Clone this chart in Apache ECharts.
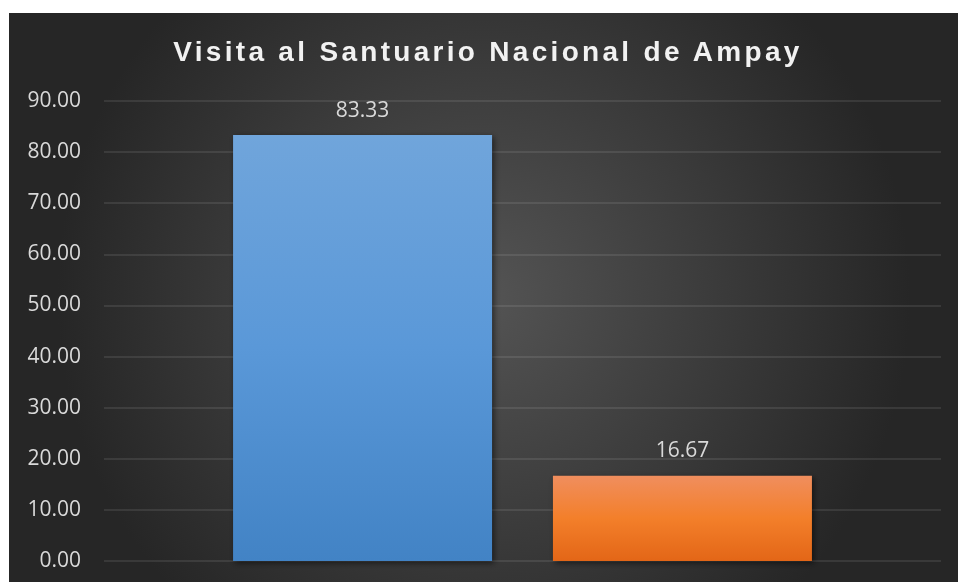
<!DOCTYPE html>
<html>
<head>
<meta charset="utf-8">
<script src="https://cdn.jsdelivr.net/npm/echarts@6/dist/echarts.min.js"></script>
<style>
  html, body { margin: 0; padding: 0; background: #fff; }
  #chart { position: absolute; left: 9px; top: 13px; width: 949px; height: 569px; }
  #titulo {
    position: absolute; left: 9px; top: 38px; width: 949px;
    text-align: center; color: #f2f2f2;
    font-family: 'Liberation Sans', Arial, sans-serif; font-weight: bold;
    font-size: 28px; line-height: 1; letter-spacing: 3.3px; padding-left: 9px;
    box-sizing: border-box; pointer-events: none;
  }
</style>
</head>
<body>
<div id="chart"></div>
<div id="titulo"></div>
<script>
var titulo = 'Visita al Santuario Nacional de Ampay';
var categorias = [''];
var seriesNombres = ['Sí', 'No'];
var valores = [83.33, 16.67];
var ejeMin = 0, ejeMax = 90, ejeIntervalo = 10;

// el título va en HTML para poder usar letter-spacing
document.getElementById('titulo').textContent = titulo;

var chart = echarts.init(document.getElementById('chart'));

var degradados = [
  ['#70a5db', '#5a98d8', '#4283c5'],
  ['#f08e5e', '#f37f2a', '#e36617']
];

var series = seriesNombres.map(function (nombre, i) {
  return {
    name: nombre,
    type: 'bar',
    barWidth: 259,
    barGap: '23.5%',
    data: [valores[i]],
    itemStyle: {
      color: new echarts.graphic.LinearGradient(0, 0, 0, 1, [
        { offset: 0, color: degradados[i][0] },
        { offset: 0.5, color: degradados[i][1] },
        { offset: 1, color: degradados[i][2] }
      ]),
      shadowColor: 'rgba(0,0,0,0.55)',
      shadowBlur: 6,
      shadowOffsetX: 2,
      shadowOffsetY: 2
    },
    label: {
      show: true,
      position: 'top',
      distance: 14,
      color: '#d9d9d9',
      fontFamily: 'Open Sans',
      fontSize: 21,
      formatter: function (p) { return p.value.toFixed(2); }
    }
  };
});

chart.setOption({
  backgroundColor: new echarts.graphic.RadialGradient(0.5, 0.5, 0.75, [
    { offset: 0, color: '#545454' },
    { offset: 1, color: '#262626' }
  ]),
  animation: false,
  grid: { left: 95, right: 17, top: 88, bottom: 21 },
  xAxis: {
    type: 'category',
    data: categorias,
    axisLine: { show: false },
    axisTick: { show: false },
    axisLabel: { show: false }
  },
  yAxis: {
    type: 'value',
    min: ejeMin,
    max: ejeMax,
    interval: ejeIntervalo,
    axisLine: { show: false },
    axisTick: { show: false },
    axisLabel: {
      color: '#d9d9d9',
      fontFamily: 'Open Sans',
      fontSize: 21,
      margin: 23,
      formatter: function (v) { return v.toFixed(2); }
    },
    splitLine: { lineStyle: { color: 'rgba(255,255,255,0.12)', width: 1.5 } }
  },
  series: series
});
</script>
</body>
</html>
